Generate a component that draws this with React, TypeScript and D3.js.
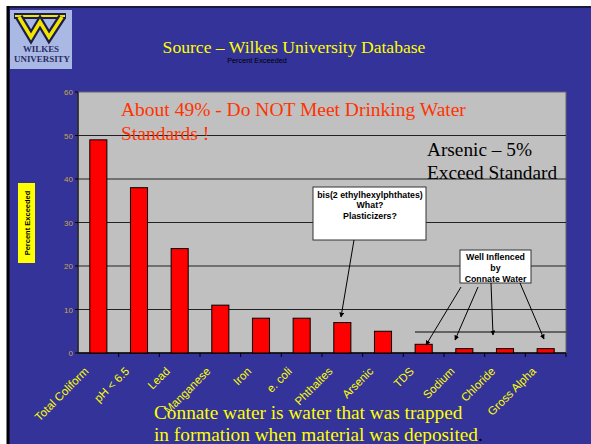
import React from "react";
import * as d3 from "d3";

const categories = ["Total Coliform", "pH < 6.5", "Lead", "Manganese", "Iron", "e. coli", "Phthaltes", "Arsenic", "TDS", "Sodium", "Chloride", "Gross Alpha"];
const percentExceeded = [49, 38, 24, 11, 8, 8, 7, 5, 2, 1, 1, 1];
const yTicks = [0, 10, 20, 30, 40, 50, 60];

export default function App() {
  const W = 591, H = 444;
  const x0 = 78, x1 = 566, yTop = 92, yBot = 353;
  const x = d3.scaleBand<string>().domain(categories).range([x0, x1]).paddingInner(0.58).paddingOuter(0.29);
  const xb = d3.scaleBand<string>().domain(categories).range([x0, x1]);
  const y = d3.scaleLinear().domain([0, 60]).range([yBot, yTop]);
  const serif = "'Liberation Serif', 'Times New Roman', serif";
  const sans = "'Liberation Sans', Arial, sans-serif";
  const cx = (c: string) => (xb(c) as number) + xb.bandwidth() / 2;
  const arrow = (id: string) => `url(#${id})`;
  return (
    <svg width={W} height={H} style={{ position: "absolute", left: 0, top: 0 }}>
      <defs>
        <marker id="ah" viewBox="0 0 10 10" refX="9" refY="5" markerWidth="5" markerHeight="5" orient="auto">
          <path d="M0,0 L10,5 L0,10 z" fill="#000" />
        </marker>
      </defs>
      <rect x={0} y={0} width={W} height={H} fill="#ffffff" />
      <rect x={7} y={6} width={W - 7} height={H - 6} fill="#333399" />
      <line x1={7} y1={7} x2={W} y2={7} stroke="#1a1a3a" strokeWidth={2} />
      <line x1={8} y1={6} x2={8} y2={H} stroke="#000" strokeWidth={3} />
      {/* logo */}
      <rect x={10} y={10} width={62} height={59} fill="#a9b9e3" />
      <path d="M14,16 L66,16" stroke="#1d1d4d" strokeWidth={6} />
      <path d="M15,16 L65,16" stroke="#f2e600" strokeWidth={2} />
      <path d="M19,17 L31,37 L40,22 L49,37 L62,17" fill="none" stroke="#1d1d4d" strokeWidth={8} strokeLinejoin="miter" />
      <path d="M19,17 L31,37 L40,22 L49,37 L62,17" fill="none" stroke="#f2e600" strokeWidth={3.5} strokeLinejoin="miter" />
      <text x={41} y={52} textAnchor="middle" fontFamily={serif} fontWeight="bold" fontSize={7.5} fill="#2a2a66" textLength={36} lengthAdjust="spacingAndGlyphs">WILKES</text>
      <text x={42} y={62} textAnchor="middle" fontFamily={serif} fontWeight="bold" fontSize={8.5} fill="#2a2a66" textLength={56} lengthAdjust="spacingAndGlyphs">UNIVERSITY</text>

      <text x={294} y={53} textAnchor="middle" fontFamily={serif} fontSize={17.6} fill="#ffff00">Source – Wilkes University Database</text>
      <text x={257} y={63} textAnchor="middle" fontFamily={sans} fontSize={7.3} fill="#000">Percent Exceeded</text>

      {/* plot */}
      <rect x={x0} y={yTop} width={x1 - x0} height={yBot - yTop} fill="#c0c0c0" stroke="#666" strokeWidth={1} />
      {yTicks.filter(t => t > 0 && t < 60).map(t => (
        <line key={t} x1={x0} x2={x1} y1={y(t)} y2={y(t)} stroke="#222" strokeWidth={1} />
      ))}
      <line x1={x0} x2={x0} y1={yTop} y2={yBot} stroke="#222" strokeWidth={1.5} />
      <line x1={x0} x2={x1} y1={yBot} y2={yBot} stroke="#000" strokeWidth={1.5} />
      {yTicks.map(t => (
        <g key={t}>
          <line x1={x0 - 3} x2={x0} y1={y(t)} y2={y(t)} stroke="#000" />
          <text x={x0 - 5} y={y(t) + 3} textAnchor="end" fontFamily={sans} fontSize={8} fill="#c8a850">{t}</text>
        </g>
      ))}
      {categories.map(c => (
        <line key={c} x1={(xb(c) as number) + xb.bandwidth()} x2={(xb(c) as number) + xb.bandwidth()} y1={yBot} y2={yBot + 4} stroke="#000" />
      ))}
      {categories.map((c, i) => (
        <rect key={c} x={x(c)} y={y(percentExceeded[i])} width={x.bandwidth()} height={yBot - y(percentExceeded[i])}
          fill="#ff0000" stroke="#000" strokeWidth={1} />
      ))}
      {categories.map(c => (
        <text key={c} transform={`translate(${cx(c) - 9},${yBot + 19}) rotate(-45)`} textAnchor="end"
          fontFamily={sans} fontSize={11.5} fill="#ffff00">{c}</text>
      ))}

      {/* y title */}
      <rect x={18} y={183} width={17} height={80} fill="#ffff00" />
      <text transform="translate(30,223) rotate(-90)" textAnchor="middle" fontFamily={sans} fontWeight="bold" fontSize={7.5} fill="#000">Percent Exceeded</text>

      <text x={121} y={116} fontFamily={serif} fontSize={19.5} fill="#ff3300">About 49% - Do NOT Meet Drinking Water</text>
      <text x={121} y={140} fontFamily={serif} fontSize={19.5} fill="#ff3300">Standards !</text>

      <text x={427} y={156} fontFamily={serif} fontSize={19.3} fill="#000">Arsenic – 5%</text>
      <text x={427} y={179} fontFamily={serif} fontSize={19.3} fill="#000">Exceed Standard</text>

      {/* callout 1 */}
      <rect x={313} y={187} width={113} height={53} fill="#fff" stroke="#333" strokeWidth={1} />
      <text x={370} y={197.5} textAnchor="middle" fontFamily={sans} fontWeight="bold" fontSize={8.8} fill="#000">bis(2 ethylhexylphthates)</text>
      <text x={370} y={208} textAnchor="middle" fontFamily={sans} fontWeight="bold" fontSize={8.8} fill="#000">What?</text>
      <text x={370} y={219} textAnchor="middle" fontFamily={sans} fontWeight="bold" fontSize={8.8} fill="#000">Plasticizers?</text>
      <line x1={354} y1={240} x2={341} y2={317} stroke="#000" markerEnd={arrow("ah")} />

      <line x1={415} y1={332} x2={569} y2={332} stroke="#444" strokeWidth={1.5} />

      {/* callout 2 */}
      <rect x={460} y={250} width={71} height={33} fill="#fff" stroke="#333" strokeWidth={1} />
      <text x={495.5} y={259.5} textAnchor="middle" fontFamily={sans} fontWeight="bold" fontSize={8.8} fill="#000">Well Inflenced</text>
      <text x={495.5} y={271} textAnchor="middle" fontFamily={sans} fontWeight="bold" fontSize={8.8} fill="#000">by</text>
      <text x={495.5} y={282} textAnchor="middle" fontFamily={sans} fontWeight="bold" fontSize={8.8} fill="#000">Connate Water</text>
      <line x1={461} y1={287} x2={426} y2={345} stroke="#000" markerEnd={arrow("ah")} />
      <line x1={478} y1={287} x2={455} y2={340} stroke="#000" markerEnd={arrow("ah")} />
      <line x1={491} y1={283} x2={493} y2={335} stroke="#000" markerEnd={arrow("ah")} />
      <line x1={520} y1={283} x2={544} y2={339} stroke="#000" markerEnd={arrow("ah")} />

      <text x={154} y={419} fontFamily={serif} fontSize={19.3} fill="#ffff00">Connate water is water that was trapped</text>
      <text x={154} y={441} fontFamily={serif} fontSize={19.3} fill="#ffff00">in formation when material was deposited<tspan fill="#000">.</tspan></text>
    </svg>
  );
}
